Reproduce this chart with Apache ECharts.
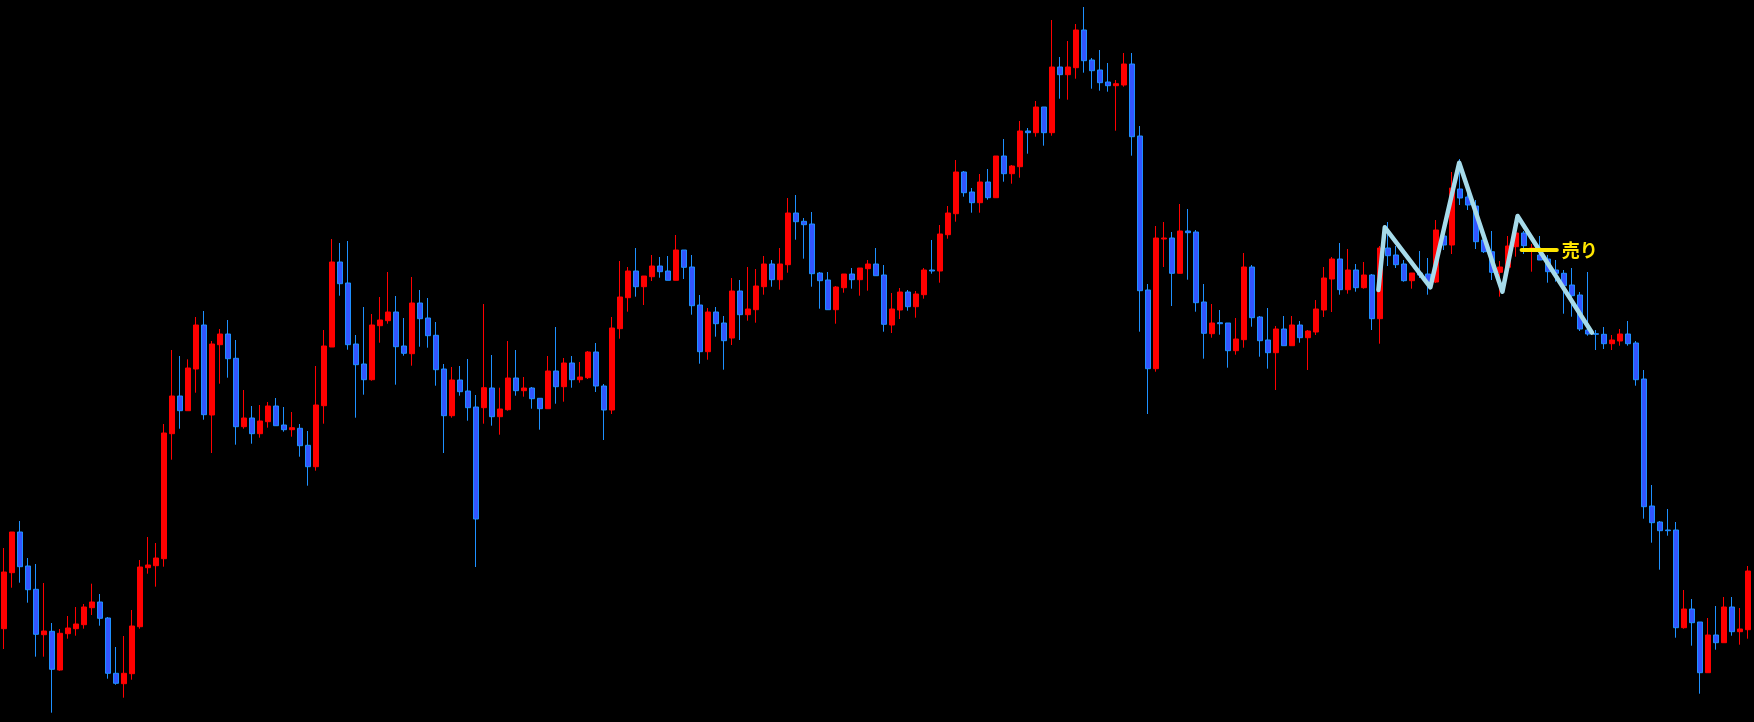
<!DOCTYPE html>
<html>
<head>
<meta charset="utf-8">
<script src="https://cdn.jsdelivr.net/npm/echarts@6/dist/echarts.min.js"></script>
<style>
html,body{margin:0;padding:0;background:#000;}
#chart{width:1754px;height:722px;}
</style>
</head>
<body>
<div id="chart"></div>
<script>
// OHLC values (price units) for 219 bars
const opens = [
371.3,427.3,468,434,410.7,365.3,368.7,330,366.3,371.3,
375.3,392.3,398,382,326.7,316.3,326.3,373.3,432.3,434.3,
441.3,566.3,604,589.3,631,675,585,655.3,666,641.7,
573.3,582,566.3,578.3,594,575,570.3,571.7,554.7,533.3,
594.3,653,738,717,656,636,620.3,674.3,679.3,688,
654,646.3,697,682,664.7,631,584.3,620,609,593,
592.3,612,583.3,590.3,622,609.3,612,601.7,591.3,629,
613.3,637,620.3,622.3,648,614,590,671.3,702.3,729,
713.3,723.3,734,729,719.7,750,733,695,648.3,688,
677,662,709,685.3,690.3,713.3,736,720.3,735.3,787,
778.7,776,727,720,690.3,712.3,726,720.3,731.3,736,
725,675,690,708,693.3,705.3,730,729,765.3,786.3,
828,808,797.3,818,802.3,844,826.3,833.3,869,867.3,
893,867.3,933,925.3,932.3,970,940,930,918,914.3,
915,936,864,710,631.3,761,762,726.7,769,768,
698,666.3,677.3,677,649.3,660.3,733,683,660,647.3,
671,654.3,675,662.3,668,690,721,741,710.3,730,
712.3,725,681.3,752,745,736,719.3,727,726,718,
764,755,811,803,794,760,748.3,727.7,732.7,753.3,
767,749,745,741,730,726.7,715,705,670,666.3,
665.7,656.3,659,666,657,621,494,478,470,470,
372.3,391,378,327.3,365,357.3,393,368.3,370.3
];
const closes = [
428,468,433.3,410.3,365.7,369,330.7,366.7,372,376,
393,398,381.7,326.7,316.7,326.7,374,433,435,442,
567,604,589.3,632,675,585.3,656,666,641.3,573.3,
582,566.3,579,594,574.3,570.3,572.3,554.3,533.3,595,
654,738,716.3,655.3,635.3,620.3,675,680,688,653.3,
646.7,697,681.3,664.3,630.3,584.3,620,608.3,592.3,481,
612.3,583.3,591,622,609.3,612,601.3,591.3,629,613.3,
637,620.3,623,648,614,590,672,703,729,713.3,
724,734,728.3,719.7,750,732.7,694.3,648.3,688,676.3,
659.3,709,685.3,691,714,736,720.3,736,787,778.3,
775.3,726.3,719.3,690.3,713,726,720.3,732,736,724.3,
675.7,691,708,693.3,706,730,729,766,787,828,
807.3,797.3,818,802.3,844,826.3,834,869,867.3,893,
867.3,933,925.3,933,970,939.3,929.3,917.3,914.3,916.3,
936,863.3,709.3,631.3,762,762,726.7,769,767.3,697.3,
666.7,677,676.3,649.3,661,733,682.3,659.3,647.3,671,
654.3,675,662.3,669,691,722,741,710.3,730,712.3,
725,681.3,752,744.3,735.3,719.3,727,725,717.3,770,
755,812,802,795,758.3,748.3,727.7,733,754,767,
754.3,752,740,728.3,726.7,714.3,704.3,671,666,665.7,
656.3,660,666,656.3,620.3,493.3,477.3,469.3,469.3,372.3,
391,377.3,327.3,365,357.3,393,368.3,371,429
];
const lows = [
351,412.3,417.3,397.3,343.3,343.3,287.3,329.3,361.3,364.3,
371.3,385,374.3,321.3,315.3,302.3,320.3,371.3,426.3,413.3,
433.3,540.3,571.3,589.3,607.3,580.3,547,616.3,622.3,555.3,
571.3,556.3,562.3,572.3,574.3,568.3,563.3,543.3,514.3,529.3,
576.3,653,704.3,650.3,582.3,605.3,619.3,657.3,676.3,615.3,
644.3,634.3,653.3,652.3,614.3,547,582.3,604.3,579.3,433,
576.3,574.3,565.3,589.3,604.3,603.3,591.3,570.3,591.3,596.3,
598.3,612.3,617.3,621,608,560,586,661.3,688.3,703.3,
695,719,722.3,719.7,719.7,721,685.3,636.3,640.3,663.3,
630.3,655,660,679.3,677.3,705.3,713.3,710.3,727.3,760.3,
741.3,713.3,691.3,690.3,676.3,707.3,711.3,704.3,709.3,724.3,
668.3,667,681,689.3,682.3,701.3,726.3,717.3,761.3,778.3,
803.3,787.3,787.3,800.3,802.3,818.3,816.3,822.3,846.3,863.3,
854.3,864.3,901.3,900.3,921.3,927.3,911.3,909.3,908.3,869.3,
913.3,844.3,668.3,586,628.3,733,694,726.7,720.3,688.3,
641.3,662.3,665.3,632.3,645.3,652.3,673.3,643.3,631.3,610,
654.3,654.3,657.3,630,665,683,688,705.3,706.3,708.3,
711.3,670,656.3,734,732,718.3,711.3,722,705.3,717,
750,746,795,790,751,747,720,703.3,730,743.3,
746,728.3,740,717.3,718.3,686.3,683.3,669,664.3,650,
651,650,654.3,654.3,614.3,481.3,457.3,430.3,464.3,362.3,
371.3,354.3,306.3,327.3,350.3,357.3,364.3,355.3,361.3
];
const highs = [
452,468,479,442,436,417,377,371,384,393,
396,416.3,406,383,353,364,390,440,463,457,
576,650,644,640.7,683,689,659,671,680,660,
610,594,595,598,602,593,588,576,569,634,
670,761,757,759,665,693,686,703,728,704,
682,723,710,702,678,636,633,634,641,605,
696,645,612.3,659,650,623,613,601.7,644,673,
642,644,638,649,657,616,683,739,733,752,
724,745,743,744,765,750,745,705,692,693,
684,722,720,733,731,744,740,752,802,805,
782,788,728,728,714,726,732,732,740,752,
735,707,712,710,709,732,760,775,794,840,
829,812,826,831,844,861,835,879,872,899,
893,980,943,959,976,993,942,950,937,920,
947,947,874,716,774,778,768,796,791,770,
716,696,690,677,682,747,735,684,692,674,
684,684,679,670,700,733,743,757,751,736,
738,726,754,778,754,740,727,749,742,780,
770,828,841,810,800,769,769,739,764,780,
769,756,764,745,740,730,732,708,728,670,
673,665,671,679,659,630,515,479,491,478,
410,401,378,382,394,403,403,392,434
];
const categories = opens.map((_, i) => String(i + 1));

// Zigzag overlay: [bar position, price]
const zigzagX = [171.8, 172.6, 178.3, 181.9, 187.3, 189.2, 198.5];
const zigzagY = [710, 772.7, 712.7, 837.3, 708.3, 784, 667.3];

// Sell marker
const sellX = [189.7, 194.1];
const sellY = [750, 750];
const sellLabel = '売り';

const candleData = opens.map((o, i) => [o, closes[i], lows[i], highs[i]]);
const zigzagData = zigzagX.map((x, i) => [x, zigzagY[i]]);
const sellData = sellX.map((x, i) => [x, sellY[i]]);

const chart = echarts.init(document.getElementById('chart'), null, {renderer: 'canvas'});
chart.setOption({
  backgroundColor: '#000000',
  animation: false,
  grid: {left: 0, right: 2, top: 0, bottom: 0},
  xAxis: [
    {type: 'category', data: categories, boundaryGap: true, show: false},
    {type: 'value', min: -0.5, max: categories.length - 0.5, show: false}
  ],
  yAxis: {type: 'value', min: 278, max: 1000, show: false, splitLine: {show: false}},
  series: [
    {
      type: 'candlestick',
      xAxisIndex: 0,
      data: candleData,
      barWidth: 5,
      itemStyle: {
        color: '#ff0000',
        color0: '#3355ff',
        borderColor: '#ff0000',
        borderColor0: '#1e90ff',
        borderWidth: 1
      }
    },
    {
      type: 'line',
      xAxisIndex: 1,
      data: zigzagData,
      symbol: 'none',
      lineStyle: {color: '#a6dbea', width: 4.5, join: 'round', cap: 'round'},
      z: 5
    },
    {
      type: 'line',
      xAxisIndex: 1,
      data: sellData,
      symbol: 'none',
      lineStyle: {color: '#ffe600', width: 4, cap: 'round'},
      endLabel: {
        show: true,
        formatter: sellLabel,
        distance: 5,
        color: '#ffe600',
        fontSize: 18,
        fontWeight: 'bold',
        fontFamily: 'Noto Sans CJK JP'
      },
      z: 6
    }
  ]
});
</script>
</body>
</html>
